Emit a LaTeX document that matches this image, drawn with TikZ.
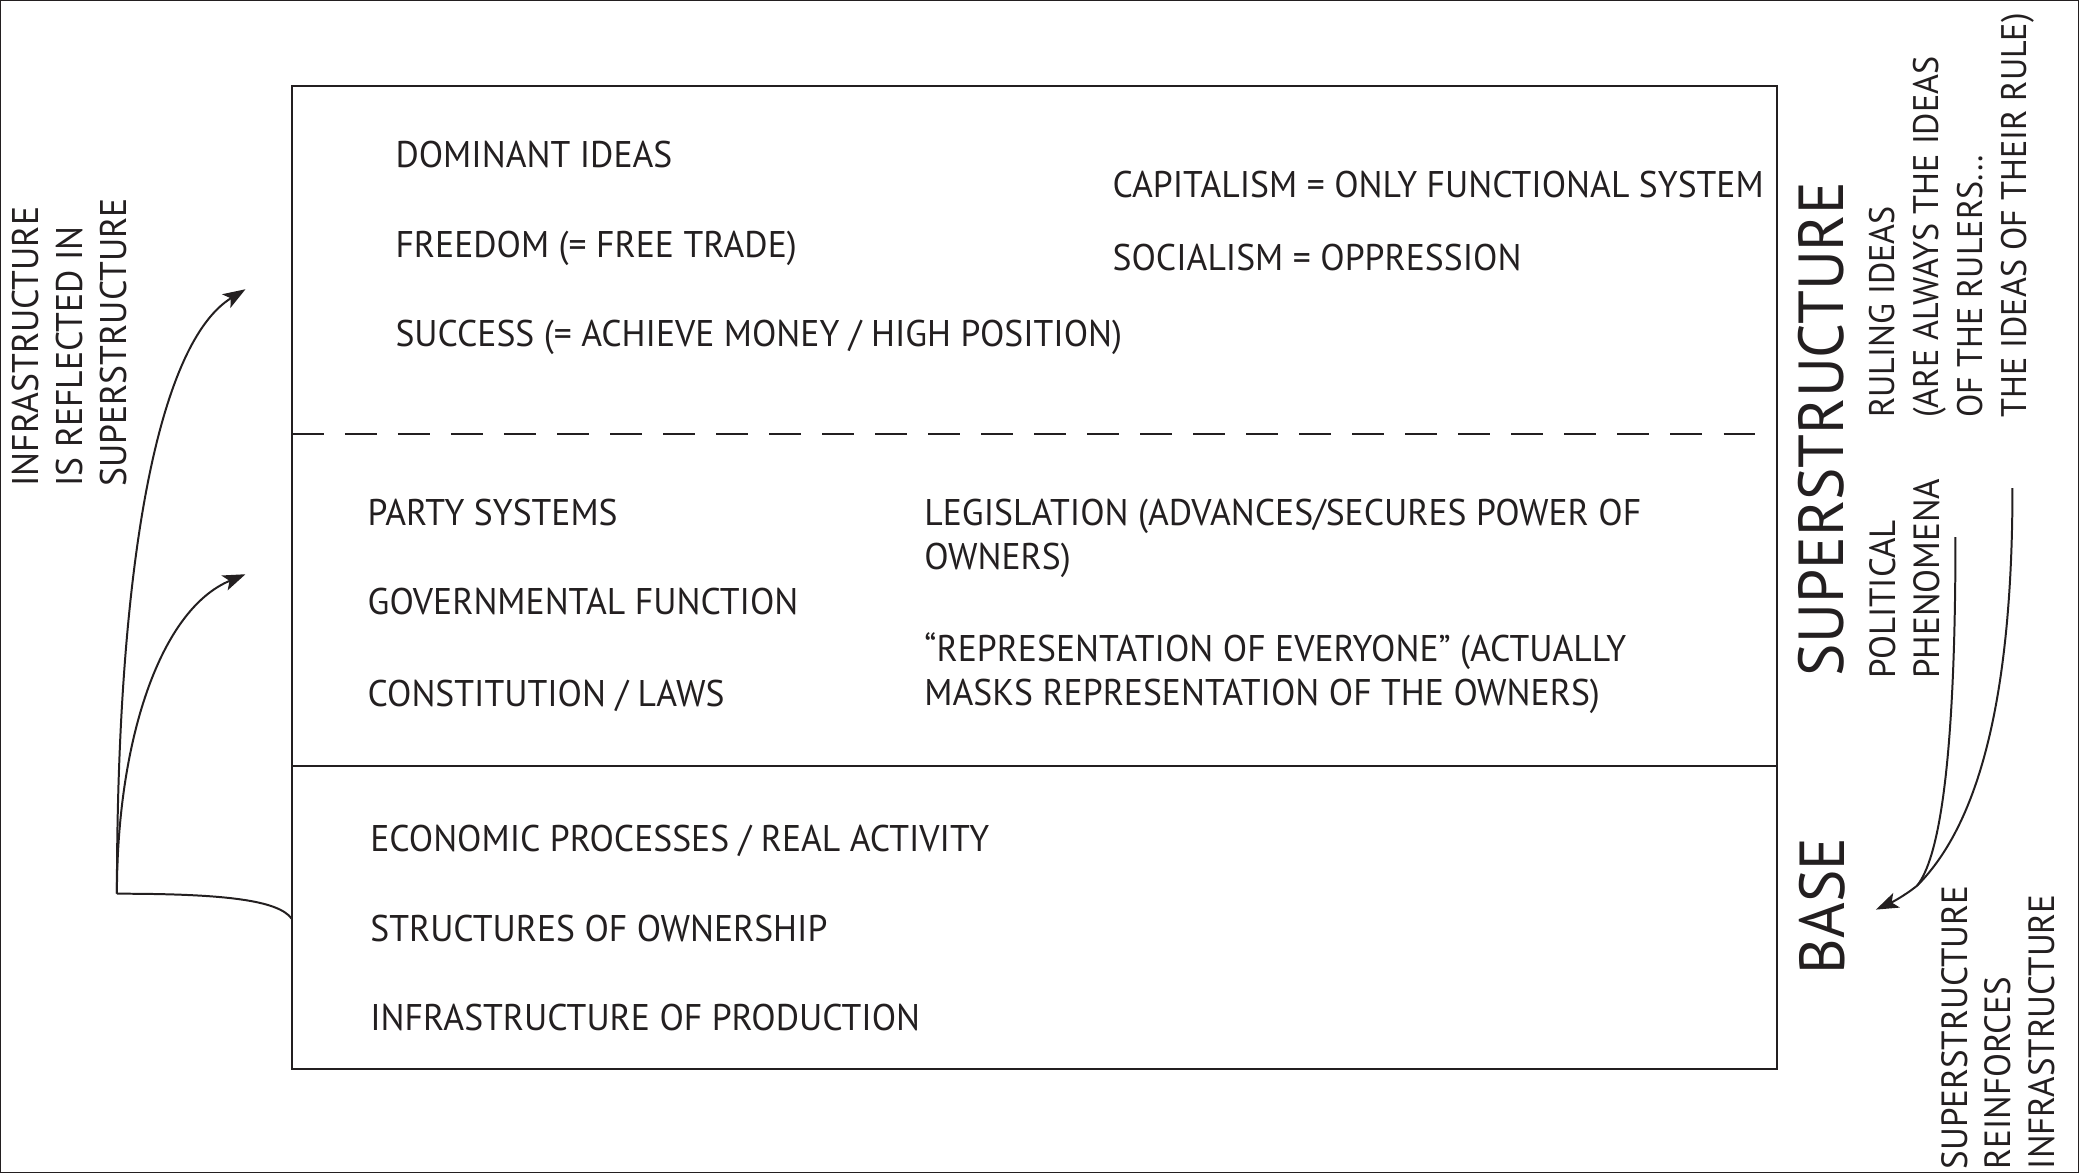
\documentclass[tikz,border=0pt]{standalone}
\usepackage{fontspec}
\setmainfont{PT Sans}[FakeStretch=0.96]
\usetikzlibrary{arrows.meta}
\definecolor{ink}{RGB}{35,31,32}
\begin{document}
\begin{tikzpicture}[x=1pt,y=-1pt,
  every path/.style={draw=ink},
  txt/.style={anchor=north west, inner sep=0pt, text=ink, align=left,
    font=\fontsize{28}{33}\selectfont},
  rtxt/.style={txt, rotate=90},
  big/.style={anchor=north west, inner sep=0pt, text=ink, rotate=90,
    font=\fontsize{48}{56}\selectfont},
  frame/.style={draw=ink, line width=1.5pt},
  conn/.style={draw=ink, line width=1.5pt},
  arr/.style={conn, -{Stealth[length=17pt,width=12pt,inset=4pt]}}]
\useasboundingbox (0,0) rectangle (1568,884);

% frame
\node[frame, minimum width=1120pt, minimum height=741pt, inner sep=0pt] (box) at (780,435.5) {};
\coordinate (dashL) at (220,327);
\coordinate (dashR) at (1340,327);
\coordinate (divL) at (220,578);
\coordinate (divR) at (1340,578);
\draw[frame, dash pattern=on 24pt off 16pt] (dashL) -- (dashR);
\draw[frame] (divL) -- (divR);

% upper section
\node[txt] (dom) at (298,106) {DOMINANT IDEAS};
\node[txt] (free) at (298,174) {FREEDOM (= FREE TRADE)};
\node[txt] (succ) at (298,241) {SUCCESS (= ACHIEVE MONEY / HIGH POSITION)};
\node[txt] (cap) at (839,129) {CAPITALISM = ONLY FUNCTIONAL SYSTEM};
\node[txt] (soc) at (839,184) {SOCIALISM = OPPRESSION};

% middle section
\node[txt] (party) at (277,376) {PARTY SYSTEMS};
\node[txt] (gov) at (277,443) {GOVERNMENTAL FUNCTION};
\node[txt] (const) at (277,513) {CONSTITUTION / LAWS};
\node[txt] (legis) at (697,376) {LEGISLATION (ADVANCES/SECURES POWER OF\\OWNERS)};
\node[txt] (repr) at (697,477) {“REPRESENTATION OF EVERYONE” (ACTUALLY\\MASKS REPRESENTATION OF THE OWNERS)};

% base section
\node[txt] (econ) at (279,622) {ECONOMIC PROCESSES / REAL ACTIVITY};
\node[txt] (own) at (279,690) {STRUCTURES OF OWNERSHIP};
\node[txt] (infra) at (279,757) {INFRASTRUCTURE OF PRODUCTION};

% right labels
\node[big] (super) at (1356,510) {SUPERSTRUCTURE};
\node[big] (base) at (1357,735) {BASE};
\node[rtxt, font=\fontsize{26.8}{33}\selectfont] (ruling) at (1410,315) {RULING IDEAS\\(ARE ALWAYS THE IDEAS\\OF THE RULERS...\\THE IDEAS OF THEIR RULE)};
\node[rtxt, font=\fontsize{27.5}{33}\selectfont] (polit) at (1410,512) {POLITICAL\\PHENOMENA};
\node[rtxt, font=\fontsize{27.5}{33}\selectfont] (reinf) at (1464,882) {SUPERSTRUCTURE\\REINFORCES\\INFRASTRUCTURE};

% left label
\node[rtxt] (refl) at (9,367) {INFRASTRUCTURE\\IS REFLECTED IN\\SUPERSTRUCTURE};

% left connectors
\coordinate (bl) at (220,693);
\coordinate (lc) at (88,674);
\coordinate (t1) at (185,218);
\coordinate (t2) at (185,433);
\draw[conn] (bl) .. controls (210,679) and (170,674) .. (lc);
\draw[arr] (lc) .. controls (88,420) and (120,258) .. (t1);
\draw[arr] (lc) .. controls (88,560) and (120,460) .. (t2);

% right connectors
\coordinate (r1) at (1475,405);
\coordinate (r2) at (1518,368);
\coordinate (rj) at (1446,668);
\coordinate (rt) at (1415,686);
\draw[arr] (r1) .. controls (1475,580) and (1462,648) .. (rj) .. controls (1436,676) and (1426,681) .. (rt);
\draw[conn] (r2) .. controls (1518,545) and (1486,628) .. (rj);
\end{tikzpicture}
\end{document}
